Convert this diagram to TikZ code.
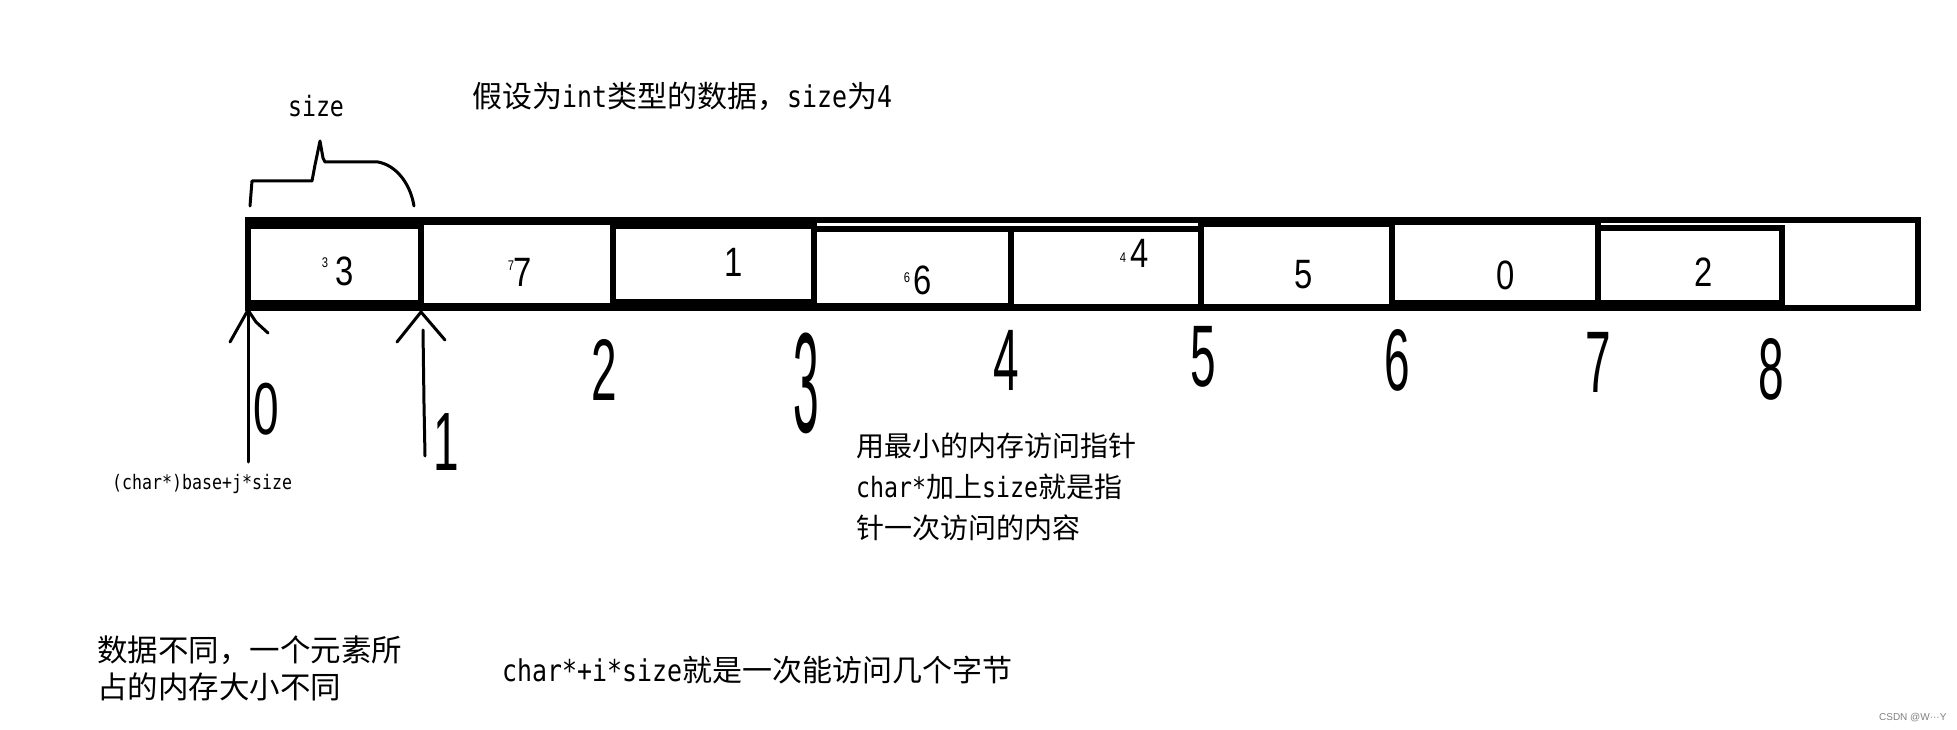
\documentclass[tikz,border=0pt]{standalone}
\usepackage{fontspec}
\setmainfont{Liberation Sans}
\newfontfamily\cjk{Noto Sans CJK SC}
\newfontfamily\latin{DejaVu Sans Mono}[FakeStretch=0.83]
\newfontfamily\narrowsans{Liberation Sans}[FakeStretch=0.8]
\newfontfamily\handsans{Liberation Sans}
\newcommand\tallnum[2][1.9]{\scalebox{1}[#1]{#2}}

\begin{document}
\begin{tikzpicture}[x=1pt, y=-1pt,
		cell/.style={line width=6pt},
		hand/.style={line width=3pt, line join=round, line cap=round},
		note/.style={anchor=west, align=left, inner sep=0pt, font=\cjk\fontsize{28}{41}\selectfont},
		val/.style={inner sep=0pt, font=\narrowsans\fontsize{41}{41}\selectfont},
		small/.style={inner sep=0pt, font=\narrowsans\fontsize{14}{14}\selectfont},
		idx/.style={inner sep=0pt, font=\handsans\fontsize{46}{46}\selectfont}]
		\useasboundingbox (0, 0) rectangle (1957, 730);
		\draw [cell] (248, 220) rectangle (1918, 308);
		\draw [cell] (248, 226) rectangle (421, 303);
		\draw [cell] (421, 222) rectangle (613, 306);
		\draw [cell] (613, 226) rectangle (814, 302);
		\draw [cell] (814, 229) rectangle (1011, 306);
		\draw [cell] (1011, 229) rectangle (1201, 307);
		\draw [cell] (1201, 224) rectangle (1392, 307);
		\draw [cell] (1392, 222) rectangle (1598, 303);
		\draw [cell] (1598, 228) rectangle (1782, 303);
		\node [val] (v0) at (345, 271) {3};
		\node [small] (s0) at (325, 263) {3};
		\node [val] (v1) at (523, 272) {7};
		\node [small] (s1) at (511, 266) {7};
		\node [val] (v2) at (734, 262) {1};
		\node [val] (v3) at (923, 280) {6};
		\node [small] (s3) at (907, 278) {6};
		\node [val] (v4) at (1140, 253) {4};
		\node [small] (s4) at (1123, 258) {4};
		\node [val] (v5) at (1304, 275) {5};
		\node [val] (v6) at (1506, 275) {0};
		\node [val] (v7) at (1704, 272) {2};
		\node [inner sep=0pt, font=\latin\fontsize{28}{28}\selectfont] (size) at (316, 106) {size};
		\draw [hand] (250, 206) -- (252, 181) -- (312, 181) -- (315, 165) -- (320, 141) -- (323, 158) -- (325, 162) -- (378, 162) .. controls (395, 165) and (410, 182) .. (414, 206);
		\node [note, font=\cjk\fontsize{30}{30}\selectfont] (title) at (472, 96) {假设为{\latin int}类型的数据，{\latin size}为{\latin 4}};
		\coordinate (tip0) at (248, 310);
		\coordinate (end0) at (248, 462);
		\draw [hand] (end0) -- (tip0);
		\draw [hand] (230, 342) -- (tip0) -- (256, 322) -- (268, 333);
		\coordinate (tip1) at (421, 312);
		\coordinate (end1) at (425, 456);
		\draw [hand] (end1) -- (424, 404) -- (423, 330);
		\draw [hand] (397, 342) -- (tip1) -- (445, 340);
		\node [idx] (i0) at (266, 409) {\tallnum[1.6]{0}};
		\node [idx] (i1) at (446, 442) {\tallnum[1.8]{1}};
		\node [idx] (i2) at (604, 370) {\tallnum{2}};
		\node [idx] (i3) at (806, 383) {\tallnum[3.1]{3}};
		\node [idx] (i4) at (1006, 360) {\tallnum{4}};
		\node [idx] (i5) at (1203, 357) {\tallnum{5}};
		\node [idx] (i6) at (1397, 360) {\tallnum{6}};
		\node [idx] (i7) at (1598, 362) {\tallnum{7}};
		\node [idx] (i8) at (1771, 369) {\tallnum{8}};
		\node [anchor=west, inner sep=0pt, font=\latin\fontsize{20}{20}\selectfont] (base) at (112, 484) {(char*)base+j*size};
		\node [note] (hint) at (856, 487) {用最小的内存访问指针\\{\latin char*}加上{\latin size}就是指\\针一次访问的内容};
		\node [note, font=\cjk\fontsize{30.5}{37}\selectfont] (diff) at (97, 668) {数据不同，一个元素所\\占的内存大小不同};
		\node [note, font=\cjk\fontsize{30}{37}\selectfont] (step) at (502, 670) {{\latin char*+i*size}就是一次能访问几个字节};
		\node [anchor=east, text=gray, font=\fontsize{10}{10}\selectfont] (mark) at (1950, 718) {CSDN @W···Y};
	\end{tikzpicture}
\end{document}
